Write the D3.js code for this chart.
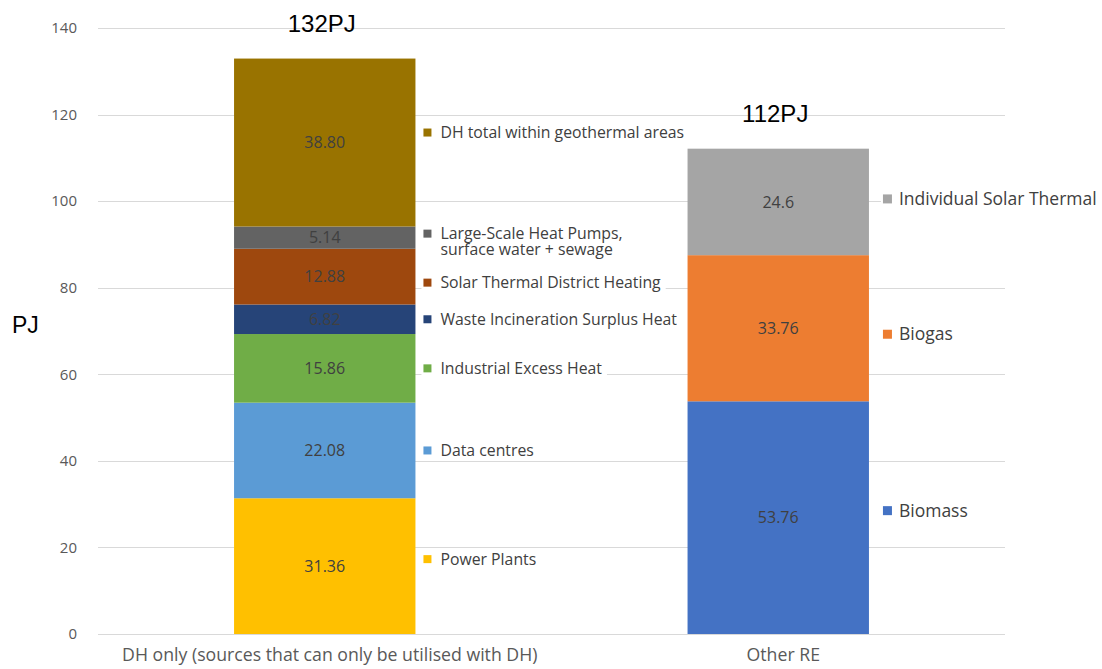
<!DOCTYPE html>
<html>
<head>
<meta charset="utf-8">
<script src="https://cdn.jsdelivr.net/npm/d3@7"></script>
<style>
  html, body { margin: 0; padding: 0; background: #fff; }
  svg { display: block; }
</style>
</head>
<body>
<svg id="chart" width="1102" height="669"></svg>
<script>
// Categories (bars) and their stacked components
const categories = ["DH only (sources that can only be utilised with DH)", "Other RE"];

const dhSeries = ["Power Plants", "Data centres", "Industrial Excess Heat",
  "Waste Incineration Surplus Heat", "Solar Thermal District Heating",
  "Large-Scale Heat Pumps,\nsurface water + sewage", "DH total within geothermal areas"];
const dhValues = [31.36, 22.08, 15.86, 6.82, 12.88, 5.14, 38.80];
const dhLabels = ["31.36", "22.08", "15.86", "6.82", "12.88", "5.14", "38.80"];

const reSeries = ["Biomass", "Biogas", "Individual Solar Thermal"];
const reValues = [53.76, 33.76, 24.6];
const reLabels = ["53.76", "33.76", "24.6"];

const totalLabels = ["132PJ", "112PJ"];
const yTicks = [0, 20, 40, 60, 80, 100, 120, 140];

const dhColors = ["#FFC000", "#5B9BD5", "#70AD47", "#264478", "#9E480E", "#636363", "#997300"];
const reColors = ["#4472C4", "#ED7D31", "#A5A5A5"];

// small vertical nudges (px) for the series-name tags beside each segment
const tagNudge = {
  "Power Plants": -7, "Solar Thermal District Heating": 6,
  "Large-Scale Heat Pumps, surface water + sewage": 4,
  "DH total within geothermal areas": -10, "Biomass": -7, "Biogas": 6, "Individual Solar Thermal": -3
};

const font = "'Open Sans', Lato, sans-serif";
const svg = d3.select("#chart");

const plot = { left: 98, right: 1005, top: 28, bottom: 634 };

const x = d3.scaleBand().domain(categories)
  .range([plot.left, plot.right]).paddingInner(0.6).paddingOuter(0.3);
const y = d3.scaleLinear().domain([0, 140]).range([plot.bottom, plot.top]);

// gridlines
svg.append("g").selectAll("line").data(yTicks).join("line")
  .attr("x1", plot.left).attr("x2", plot.right)
  .attr("y1", d => Math.round(y(d)) + 0.5).attr("y2", d => Math.round(y(d)) + 0.5)
  .attr("stroke", "#d9d9d9").attr("stroke-width", 1);

// y axis labels
const yAxis = d3.axisLeft(y).tickValues(yTicks).tickSize(0).tickPadding(0);
const gy = svg.append("g").attr("transform", `translate(${plot.left - 21},0)`).call(yAxis);
gy.select(".domain").remove();
gy.selectAll("text").attr("font-family", font).attr("font-size", 15).attr("fill", "#595959");

// x axis labels
const xAxis = d3.axisBottom(x).tickSize(0).tickPadding(0);
const gx = svg.append("g").attr("transform", `translate(5,${plot.bottom + 14})`).call(xAxis);
gx.select(".domain").remove();
gx.selectAll("text").attr("font-family", font).attr("font-size", 17.7).attr("fill", "#595959");

// axis title
svg.append("text").attr("x", 12).attr("y", 333).text("PJ")
  .attr("font-family", "Arial, 'Liberation Sans', sans-serif").attr("font-size", 23).attr("fill", "#000");

function drawStack(cat, names, values, labels, colors, tagSize, tagGap, textGap) {
  let acc = 0;
  const segs = values.map((v, i) => {
    const s = { name: names[i], v0: acc, v1: acc + v, label: labels[i], color: colors[i] };
    acc += v;
    return s;
  });
  const g = svg.append("g");
  const bx = x(cat), bw = x.bandwidth();
  g.selectAll("rect").data(segs).join("rect")
    .attr("x", bx).attr("width", bw)
    .attr("y", d => y(d.v1)).attr("height", d => y(d.v0) - y(d.v1))
    .attr("fill", d => d.color);
  g.selectAll("text.val").data(segs).join("text").attr("class", "val")
    .attr("x", bx + bw / 2).attr("y", d => y((d.v0 + d.v1) / 2))
    .attr("dy", "0.35em").attr("text-anchor", "middle")
    .attr("font-family", font).attr("font-size", 16).attr("fill", "#404040")
    .text(d => d.label);

  // series name tags to the right of the bar
  const tx = bx + bw + tagGap;
  const ms = Math.round(tagSize * 0.52);
  segs.forEach(d => {
    const lines = d.name.split("\n");
    const cy = y((d.v0 + d.v1) / 2) + (tagNudge[d.name.replace("\n", " ")] || 0);
    const lh = 16;
    const top = cy - (lines.length - 1) * lh / 2;
    const tg = g.append("g");
    const t = tg.append("text")
      .attr("font-family", font).attr("font-size", tagSize).attr("fill", "#404040");
    lines.forEach((ln, k) => t.append("tspan")
      .attr("x", tx + ms + textGap).attr("y", top + k * lh).attr("dy", "0.35em").text(ln));
    const w = d3.max(t.selectAll("tspan").nodes(), n => n.getComputedTextLength());
    tg.insert("rect", "text").attr("x", tx - 2).attr("y", top - 10)
      .attr("width", w + ms + textGap + 7).attr("height", (lines.length - 1) * lh + 20).attr("fill", "#fff");
    tg.append("rect").attr("x", tx).attr("y", top - ms / 2).attr("width", ms).attr("height", ms).attr("fill", d.color);
  });
  return acc;
}

const totals = [
  drawStack(categories[0], dhSeries, dhValues, dhLabels, dhColors, 15.8, 8, 9),
  drawStack(categories[1], reSeries, reValues, reLabels, reColors, 17.5, 14, 7)
];

// totals above the bars
svg.append("g").selectAll("text").data(categories).join("text")
  .attr("x", d => x(d) + x.bandwidth() / 2 - 3)
  .attr("y", (d, i) => y(totals[i]) - 35).attr("dy", "0.35em")
  .attr("text-anchor", "middle")
  .attr("font-family", "Arial, 'Liberation Sans', sans-serif").attr("font-size", 24).attr("fill", "#000")
  .text((d, i) => totalLabels[i]);
</script>
</body>
</html>
